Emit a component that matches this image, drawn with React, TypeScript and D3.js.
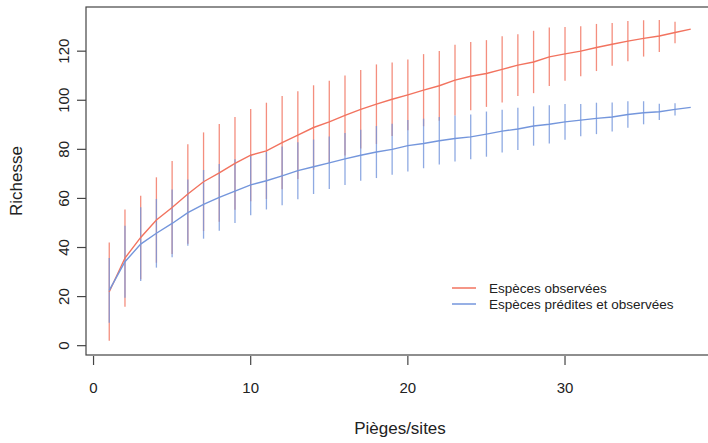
import React from 'react';
import * as d3 from 'd3';

// piège/site index 1..38
const sites = d3.range(1, 39);

// espèces observées: moyenne et écart
const obsMean = [22, 35.7, 44.1, 51.2, 56.3, 61.8, 66.8, 70.4, 74.3, 77.6,
  79.4, 82.7, 85.8, 88.9, 91.2, 93.8, 96.3, 98.4, 100.4, 102.2,
  104.1, 105.9, 108.2, 109.8, 110.9, 112.6, 114.3, 115.6, 117.7, 118.9,
  120.0, 121.5, 122.8, 124.1, 125.2, 126.2, 127.6, 129.0];
const obsSd = [20, 19.8, 17, 17.4, 18.9, 20.3, 20.1, 19.9, 18.9, 18.8,
  19.6, 19, 17.9, 17.2, 16.7, 16.3, 16, 16.2, 15, 14.4,
  14.7, 14.2, 14.4, 13.9, 13.6, 13.5, 12.6, 12.7, 11.9, 11,
  10.2, 9.6, 8.7, 8.2, 7.4, 6.5, 4.4, 0];

// espèces prédites et observées
const predMean = [22.5, 34.2, 41.4, 45.8, 49.8, 54.2, 57.6, 60.4, 63.0, 65.5,
  67.2, 69.2, 71.3, 72.9, 74.5, 76.1, 77.6, 78.9, 80.0, 81.5,
  82.4, 83.5, 84.4, 85.1, 86.2, 87.4, 88.3, 89.5, 90.2, 91.2,
  91.9, 92.6, 93.2, 94.2, 94.9, 95.3, 96.3, 97.1];
const predSd = [13.2, 14.7, 15, 14, 13.8, 13.5, 14, 13.6, 13, 12.4,
  11.7, 12, 11.6, 11.1, 10.7, 10.6, 10.4, 10.6, 10.4, 10.5,
  10.1, 9.7, 9.4, 9.1, 9.2, 8.7, 8.6, 8, 7.8, 7.3,
  6.6, 6.4, 5.9, 5.4, 4.7, 3.3, 2.5, 0];

const xTicks = [0, 10, 20, 30];
const yTicks = [0, 20, 40, 60, 80, 100, 120];
const legendLabels = ['Espèces observées', 'Espèces prédites et observées'];

const RED = '#f2735f';
const BLUE = '#7496dc';
const FONT = '"Liberation Sans", Arial, Helvetica, sans-serif';

export default function App() {
  const width = 708, height = 443;
  const x = d3.scaleLinear().domain([-0.48, 39.48]).range([86, 714]);
  const y = d3.scaleLinear().domain([-3.8, 138]).range([355, 7]);

  const line = d3.line<number>()
    .x((d, i) => x(sites[i]))
    .y(d => y(d));

  const series = [
    { mean: obsMean, sd: obsSd, color: RED },
    { mean: predMean, sd: predSd, color: BLUE },
  ];

  return (
    <svg width={width} height={height} style={{ position: 'absolute', left: 0, top: 0, background: '#fff' }}
      fontFamily={FONT}>
      {/* error bars first, then lines */}
      {series.map((s, k) => (
        <g key={'bars' + k} stroke={s.color} strokeWidth={1.3} opacity={0.8}>
          {sites.map((site, i) => s.sd[i] > 0 ? (
            <line key={i} x1={x(site)} x2={x(site)}
              y1={y(s.mean[i] - s.sd[i])} y2={y(s.mean[i] + s.sd[i])} />
          ) : null)}
        </g>
      ))}
      {series.map((s, k) => (
        <path key={'line' + k} d={line(s.mean) || ''} fill="none" stroke={s.color} strokeWidth={1.4} />
      ))}

      {/* box */}
      <rect x={86} y={7} width={628} height={348} fill="none" stroke="#444" strokeWidth={1.2} />

      {/* x axis */}
      <g stroke="#444" strokeWidth={1.2}>
        {xTicks.map(t => (
          <line key={t} x1={x(t)} x2={x(t)} y1={356} y2={365} />
        ))}
      </g>
      {xTicks.map(t => (
        <text key={t} x={x(t)} y={393} textAnchor="middle" fontSize={15} fill="#222">{t}</text>
      ))}

      {/* y axis */}
      <g stroke="#444" strokeWidth={1.2}>
        {yTicks.map(t => (
          <line key={t} x1={77} x2={86} y1={y(t)} y2={y(t)} />
        ))}
      </g>
      {yTicks.map(t => (
        <text key={t} transform={`translate(69,${y(t)}) rotate(-90)`} textAnchor="middle"
          fontSize={15} fill="#222">{t}</text>
      ))}

      <text x={400} y={434} textAnchor="middle" fontSize={17} fill="#222">Pièges/sites</text>
      <text transform={`translate(22,181) rotate(-90)`} textAnchor="middle" fontSize={17} fill="#222">Richesse</text>

      {/* legend */}
      {legendLabels.map((lab, i) => (
        <g key={lab} transform={`translate(0,${288 + i * 16})`}>
          <line x1={452} x2={476} y1={0} y2={0} stroke={series[i].color} strokeWidth={1.5} />
          <text x={489} y={4.5} fontSize={13.5} fill="#222">{lab}</text>
        </g>
      ))}
    </svg>
  );
}
